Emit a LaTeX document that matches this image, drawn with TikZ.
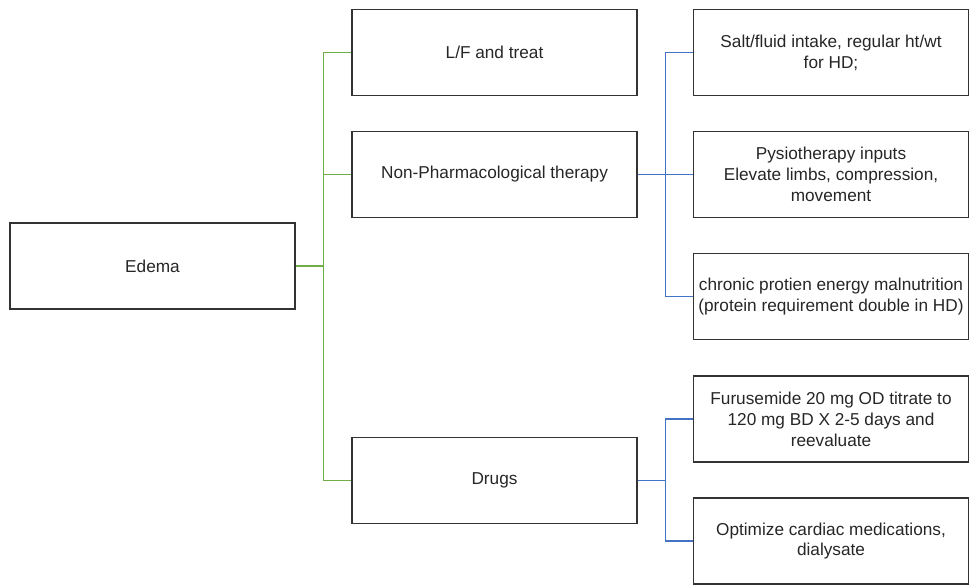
\documentclass[tikz,border=0pt]{standalone}
\usepackage{fontspec}
\setmainfont{Liberation Sans}
\usepackage{tikz}
\usetikzlibrary{positioning, calc}
\definecolor{boxline}{HTML}{333333}
\definecolor{txtgray}{HTML}{262626}
\definecolor{grnline}{HTML}{70AD47}
\definecolor{blueline}{HTML}{4472C4}
\tikzset{
 box/.style={draw=boxline, line width=0.8pt, minimum width=5.7cm, minimum height=1.72cm, align=center, inner sep=1pt, text=txtgray, font=\fontsize{9.8}{11.9}\selectfont},
 rbox/.style={box, minimum width=5.5cm},
 glink/.style={draw=grnline, line width=0.8pt},
 blink/.style={draw=blueline, line width=0.8pt}
}

\begin{document}
\begin{tikzpicture}
 \useasboundingbox (0,0) rectangle (19.38,-11.72);
 \node[box] (edema) at (3.05,-5.32) {Edema};
 \node[box] (lf) at (9.89,-1.05) {L/F and treat};
 \node[box] (nonph) at (9.89,-3.49) {Non-Pharmacological therapy};
 \node[box] (drugs) at (9.89,-9.61) {Drugs};
 \node[rbox] (salt) at (16.62,-1.05) {Salt/fluid intake, regular ht/wt\\for HD;};
 \node[rbox] (physio) at (16.62,-3.49) {Pysiotherapy inputs\\Elevate limbs, compression,\\movement};
 \node[rbox] (chronic) at (16.62,-5.93) {chronic protien energy malnutrition\\(protein requirement double in HD)};
 \node[rbox] (furu) at (16.62,-8.38) {Furusemide 20 mg OD titrate to\\120 mg BD X 2-5 days and\\reevaluate};
 \node[rbox] (optim) at (16.62,-10.82) {Optimize cardiac medications,\\dialysate};
 % edema branches
 \draw[glink] (edema.east) -- ++(0.56,0) |- (lf.west);
 \draw[glink] (edema.east) -- ++(0.56,0) |- (nonph.west);
 \draw[glink] (edema.east) -- ++(0.56,0) |- (drugs.west);
 % therapy branches
 \draw[blink] (nonph.east) -- ++(0.56,0) |- (salt.west);
 \draw[blink] (nonph.east) -- ++(0.56,0) |- (physio.west);
 \draw[blink] (nonph.east) -- ++(0.56,0) |- (chronic.west);
 \draw[blink] (drugs.east) -- ++(0.56,0) |- (furu.west);
 \draw[blink] (drugs.east) -- ++(0.56,0) |- (optim.west);
\end{tikzpicture}
\end{document}
